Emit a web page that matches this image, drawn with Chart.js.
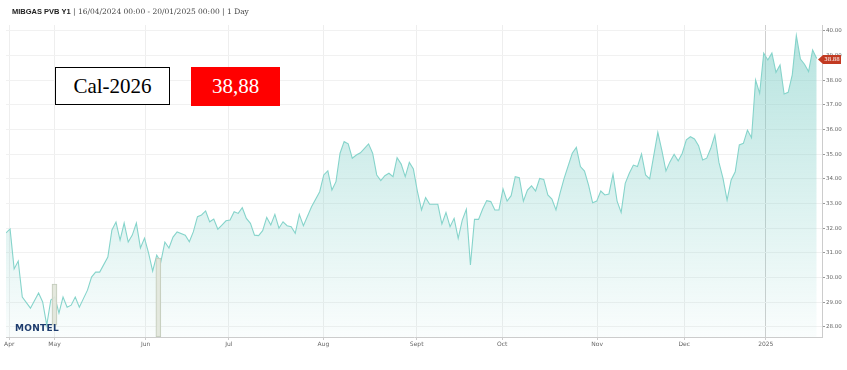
<!DOCTYPE html>
<html><head><meta charset="utf-8">
<script src="https://cdn.jsdelivr.net/npm/chart.js@4.4.1/dist/chart.umd.min.js"></script>
<style>
html,body{margin:0;padding:0;background:#fff;}
#wrap{position:relative;width:847px;height:370px;overflow:hidden;background:#fff;}
#c{position:absolute;left:0;top:0;}
.title{position:absolute;left:12px;top:4px;white-space:nowrap;color:#333;line-height:10px;}
.title b{font:bold 7.5px "Liberation Sans",Arial,sans-serif;color:#222;}
.title span{font:7.5px "DejaVu Serif",Georgia,serif;color:#444;}
.box{position:absolute;display:flex;align-items:center;justify-content:center;font:21px "Liberation Serif","Times New Roman",serif;box-sizing:border-box;}
#cal{left:55px;top:67px;width:115px;height:38px;border:1.3px solid #000;background:#fff;color:#000;}
#val{left:191px;top:67px;width:89px;height:39px;background:#ff0000;color:#fff;}
#logo{position:absolute;left:15px;top:323px;font:bold 9px "DejaVu Sans",sans-serif;letter-spacing:0.3px;color:#1d3c6e;}
</style></head>
<body>
<div id="wrap">
<canvas id="c" width="847" height="370"></canvas>
<div class="title"><b>MIBGAS PVB Y1</b><span> | 16/04/2024 00:00 - 20/01/2025 00:00 | 1 Day</span></div>
<div class="box" id="cal">Cal-2026</div>
<div class="box" id="val"></div>
<div id="logo">MONTEL</div>
</div>
<script>
// Trading-day position (0 = 16/04/2024) and settlement price (EUR/MWh)
const dayIdx = [0,1,2,3,4,6,8,9,10,11,12,13,14,15,16,17,18,20,21,22,23,25,26,27,28,29,30,31,32,33,34,35,36,37,38,39,40,41,42,44,45,46,47,48,49,50,51,52,53,54,55,56,57,58,59,60,61,62,63,64,65,66,67,68,69,70,71,72,73,75,77,78,79,80,81,82,83,84,85,86,87,88,89,90,91,92,93,94,95,96,97,98,99,100,101,102,103,104,106,107,108,109,110,111,112,113,114,115,116,117,118,119,120,121,122,123,124,125,126,127,128,129,130,131,132,133,134,135,136,137,139,140,141,142,143,144,145,146,147,148,149,150,151,152,153,154,155,156,157,158,160,161,162,163,164,165,166,167,168,169,170,171,172,173,174,175,176,177,178,179,180,181,182,183,184,185,186,187,188,189,190,191,192,193,194,195,196,197,198,199];
const price = [31.81,31.97,30.35,30.67,29.21,28.76,29.37,29.01,28.07,29.09,29.21,28.56,29.21,28.80,28.88,29.21,28.80,29.49,30.02,30.22,30.22,30.83,31.93,32.25,31.52,32.21,31.44,31.72,32.21,31.20,31.60,30.99,30.26,30.91,30.63,31.44,31.20,31.64,31.85,31.72,31.45,31.86,32.47,32.54,32.70,32.26,32.37,31.96,32.13,32.30,32.33,32.67,32.60,32.83,32.40,32.20,31.72,31.70,31.90,32.44,32.13,32.56,32.00,32.26,32.10,32.06,31.79,32.56,32.10,32.87,33.48,34.16,34.33,33.55,33.89,35.04,35.51,35.42,34.84,34.97,35.06,35.24,35.42,35.04,34.16,33.93,34.13,34.23,34.09,34.86,34.60,34.09,34.67,34.40,33.48,32.74,33.24,32.97,32.97,32.17,32.64,32.06,32.40,31.59,32.33,32.77,30.51,32.36,32.36,32.78,33.12,33.08,32.74,32.74,33.59,33.10,33.32,34.09,34.05,33.10,33.55,33.72,33.51,34.02,33.98,33.35,33.18,32.74,33.42,34.02,35.04,35.28,34.50,34.32,33.75,33.03,33.10,33.51,33.35,33.39,34.19,33.10,32.64,33.82,34.23,34.56,34.50,35.01,34.16,34.00,35.89,35.15,34.32,34.70,35.00,34.73,35.04,35.58,35.71,35.62,35.35,34.77,34.84,35.24,35.78,34.67,34.02,33.14,33.96,34.29,35.38,35.44,35.98,35.67,38.01,37.47,39.10,38.82,39.10,38.32,38.62,37.44,37.51,38.22,39.81,38.86,38.65,38.35,39.23,38.88];
// Event markers (grey bars): position and low/high
const markerIdx = [11.9, 37.4];
const markerLow = [28.07, 27.59];
const markerHigh = [29.74, 30.79];
// Axis ticks
const monthTickPos = [0.8, 11.9, 34.3, 54.7, 77.9, 100.8, 121.8, 145.1, 166.5, 186.5];
const monthTickLabels = ['Apr','May','Jun','Jul','Aug','Sept','Oct','Nov','Dec','2025'];
const priceTicks = [28,29,30,31,32,33,34,35,36,37,38,39,40];

const lastValue = price[price.length - 1];
document.getElementById('val').textContent = lastValue.toFixed(2).replace('.', ',');

const linePts = dayIdx.map((d, i) => ({x: d, y: price[i]}));
const markerPts = markerIdx.map((d, i) => ({x: d, y: [markerLow[i], markerHigh[i]]}));

const lastTag = {
  id: 'lastTag',
  afterDraw(chart) {
    const ctx = chart.ctx;
    const y = Math.round(chart.scales.y.getPixelForValue(lastValue)) + 0.5;
    const tip = chart.chartArea.right - 4;
    ctx.save();
    ctx.fillStyle = '#c23a22';
    ctx.beginPath();
    ctx.moveTo(tip, y);
    ctx.lineTo(tip + 5, y - 4.5);
    ctx.lineTo(841, y - 4.5);
    ctx.lineTo(841, y + 4.5);
    ctx.lineTo(tip + 5, y + 4.5);
    ctx.closePath();
    ctx.fill();
    ctx.fillStyle = '#fff';
    ctx.font = '5.5px "DejaVu Sans", sans-serif';
    ctx.textAlign = 'center';
    ctx.textBaseline = 'middle';
    ctx.fillText(lastValue.toFixed(2), 832, y + 0.5);
    ctx.restore();
  }
};

new Chart(document.getElementById('c'), {
  type: 'line',
  data: {
    datasets: [
      {
        type: 'line',
        data: linePts,
        borderColor: '#86d4cb',
        borderWidth: 1.1,
        pointRadius: 0,
        tension: 0,
        fill: 'start',
        backgroundColor: (c) => {
          const a = c.chart.chartArea;
          if (!a) return 'rgba(130,208,200,0.3)';
          const g = c.chart.ctx.createLinearGradient(0, a.top, 0, a.bottom);
          g.addColorStop(0, 'rgba(120,204,196,0.55)');
          g.addColorStop(1, 'rgba(120,204,196,0.04)');
          return g;
        },
        order: 2
      },
      {
        type: 'bar',
        data: markerPts,
        backgroundColor: 'rgba(226,231,220,0.9)',
        borderColor: '#c3cbbb',
        borderWidth: 1,
        borderSkipped: false,
        barThickness: 5,
        order: 1
      }
    ]
  },
  options: {
    responsive: false,
    animation: false,
    events: [],
    layout: {padding: {top: 25, left: 6, right: 0, bottom: 0}},
    plugins: {legend: {display: false}, tooltip: {enabled: false}, title: {display: false}},
    scales: {
      x: {
        type: 'linear',
        min: 0,
        max: 200.3,
        offset: false,
        afterBuildTicks: (s) => { s.ticks = monthTickPos.map(v => ({value: v})); },
        afterFit: (s) => { s.height = 33; },
        ticks: {
          autoSkip: false, maxRotation: 0, padding: 1,
          color: '#666', font: {family: '"DejaVu Sans", Verdana, sans-serif', size: 6},
          callback: (v, i) => monthTickLabels[i]
        },
        grid: {
          offset: false,
          color: (c) => (c.index === 9 ? '#cfcfcf' : '#eeeeee'),
          tickColor: '#cccccc', tickLength: 3, lineWidth: 1
        },
        border: {color: '#cccccc'}
      },
      y: {
        position: 'right',
        min: 27.59,
        max: 40.24,
        afterBuildTicks: (s) => { s.ticks = priceTicks.map(v => ({value: v})); },
        afterFit: (s) => { s.width = 25; },
        ticks: {
          padding: 1, color: '#666',
          font: {family: '"DejaVu Sans", Verdana, sans-serif', size: 5.5},
          callback: (v) => Number(v).toFixed(2)
        },
        grid: {offset: false, color: '#f1f1f1', tickColor: '#999999', tickLength: 3},
        border: {color: '#cccccc'}
      }
    }
  },
  plugins: [lastTag]
});
</script>
</body></html>
